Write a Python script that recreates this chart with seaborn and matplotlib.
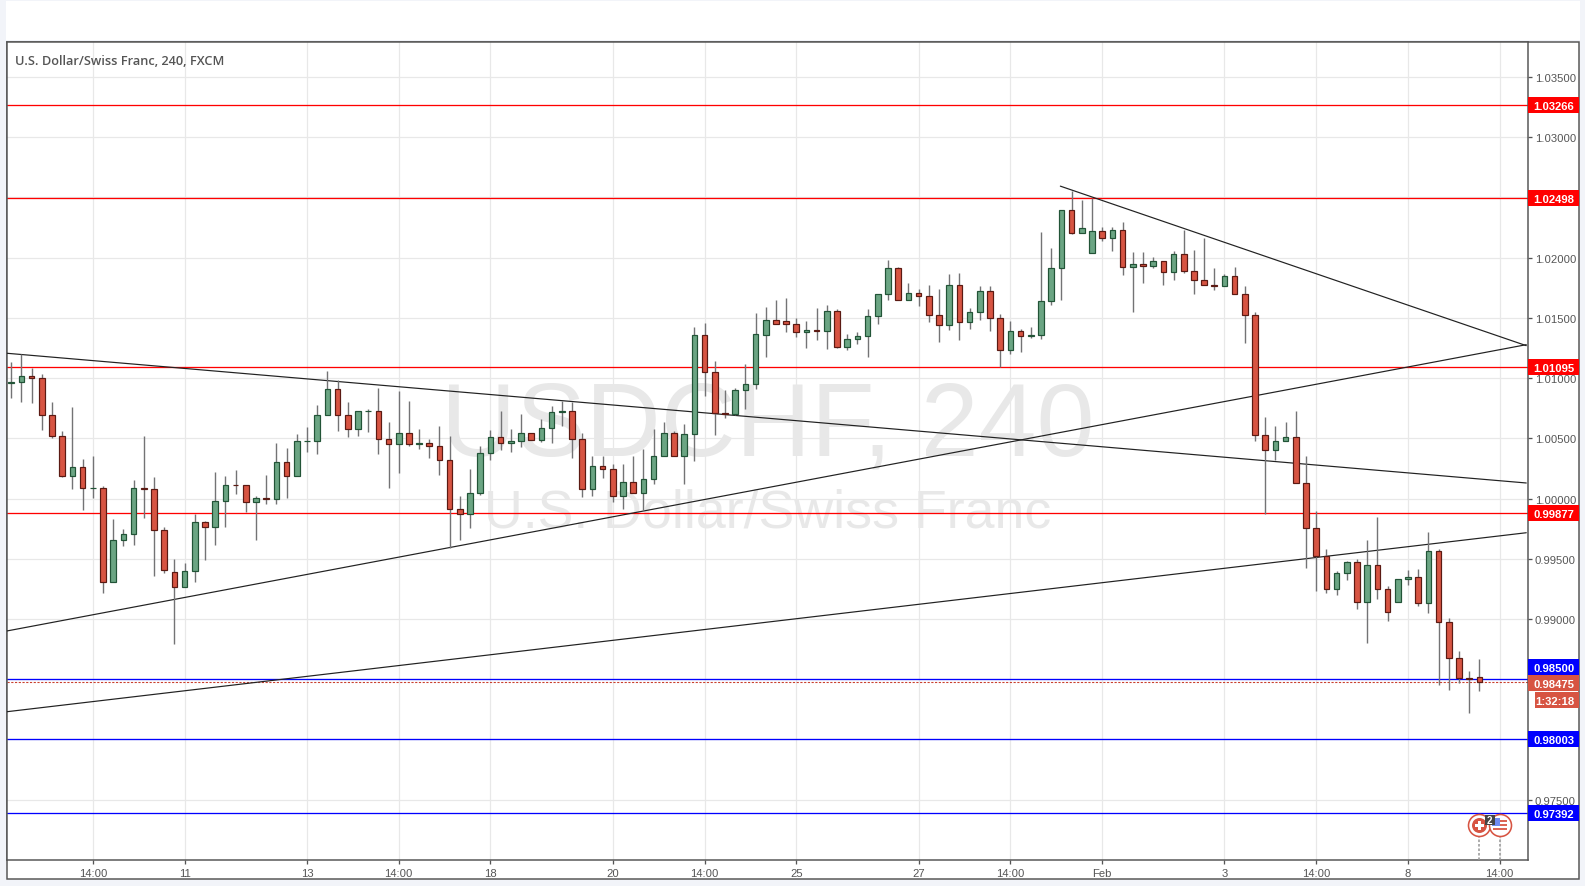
import numpy as np
import pandas as pd
import seaborn as sns
import matplotlib.pyplot as plt
from matplotlib.patches import Rectangle

opens = [
    1.00956, 1.00964, 1.01019, 1.00997, 1.00690, 1.00515, 1.00191, 1.00258, 1.00091, 1.00091,
    0.99310, 0.99659, 0.99709, 1.00091, 1.00075, 0.99742, 0.99393, 0.99269, 0.99402, 0.99801,
    0.99767, 0.99983, 1.00116, 1.00116, 0.99975, 1.00008, 0.99992, 1.00307, 1.00183, 1.00474,
    1.00474, 1.00690, 1.00906, 1.00690, 1.00573, 1.00723, 1.00723, 1.00490, 1.00449, 1.00548,
    1.00449, 1.00465, 1.00440, 1.00316, 0.99909, 0.99875, 1.00042, 1.00382, 1.00507, 1.00457,
    1.00474, 1.00540, 1.00482, 1.00582, 1.00715, 1.00723, 1.00490, 1.00075, 1.00274, 1.00241,
    1.00025, 1.00141, 1.00050, 1.00158, 1.00357, 1.00540, 1.00349, 1.00532, 1.01355, 1.01047,
    1.00706, 1.00698, 1.00897, 1.00947, 1.01359, 1.01483, 1.01475, 1.01450, 1.01384, 1.01400,
    1.01392, 1.01558, 1.01259, 1.01325, 1.01350, 1.01517, 1.01699, 1.01916, 1.01650, 1.01708,
    1.01683, 1.01525, 1.01442, 1.01774, 1.01467, 1.01550, 1.01724, 1.01500, 1.01234, 1.01392,
    1.01350, 1.01359, 1.01641, 1.01916, 1.02397, 1.02206, 1.02040, 1.02223, 1.02165, 1.02231,
    1.01922, 1.01947, 1.01931, 1.01972, 1.01881, 1.02030, 1.01889, 1.01814, 1.01773, 1.01765,
    1.01848, 1.01698, 1.01524, 1.00526, 1.00402, 1.00476, 1.00510, 1.00127, 0.99752, 0.99519,
    0.99253, 0.99378, 0.99470, 0.99145, 0.99445, 0.99245, 0.99137, 0.99328, 0.99345, 0.99129,
    0.99561, 0.98971, 0.98680, 0.98514, 0.98515,
]
closes = [
    1.00964, 1.01019, 1.00997, 1.00690, 1.00515, 1.00191, 1.00258, 1.00091, 1.00091, 0.99310,
    0.99659, 0.99709, 1.00091, 1.00075, 0.99742, 0.99410, 0.99269, 0.99402, 0.99801, 0.99767,
    0.99983, 1.00116, 1.00113, 0.99975, 1.00008, 0.99992, 1.00307, 1.00183, 1.00474, 1.00474,
    1.00690, 1.00906, 1.00690, 1.00573, 1.00723, 1.00723, 1.00490, 1.00449, 1.00548, 1.00449,
    1.00465, 1.00440, 1.00316, 0.99909, 0.99875, 1.00042, 1.00382, 1.00507, 1.00457, 1.00474,
    1.00540, 1.00482, 1.00582, 1.00715, 1.00723, 1.00490, 1.00075, 1.00274, 1.00241, 1.00025,
    1.00141, 1.00050, 1.00158, 1.00357, 1.00540, 1.00349, 1.00532, 1.01355, 1.01047, 1.00706,
    1.00698, 1.00897, 1.00947, 1.01363, 1.01483, 1.01450, 1.01450, 1.01384, 1.01400, 1.01392,
    1.01558, 1.01259, 1.01325, 1.01350, 1.01517, 1.01699, 1.01916, 1.01650, 1.01708, 1.01683,
    1.01525, 1.01442, 1.01774, 1.01467, 1.01550, 1.01724, 1.01500, 1.01234, 1.01392, 1.01350,
    1.01359, 1.01641, 1.01916, 1.02397, 1.02206, 1.02248, 1.02223, 1.02165, 1.02231, 1.01924,
    1.01947, 1.01931, 1.01972, 1.01881, 1.02030, 1.01889, 1.01814, 1.01773, 1.01765, 1.01848,
    1.01698, 1.01524, 1.00526, 1.00402, 1.00476, 1.00510, 1.00127, 0.99752, 0.99519, 0.99253,
    0.99378, 0.99470, 0.99145, 0.99445, 0.99245, 0.99054, 0.99328, 0.99345, 0.99129, 0.99561,
    0.98971, 0.98680, 0.98514, 0.98506, 0.98475,
]
highs = [
    1.01133, 1.01199, 1.01083, 1.01033, 1.00801, 1.00557, 1.00756, 1.00324, 1.00357, 1.00100,
    0.99834, 0.99751, 1.00150, 1.00515, 1.00175, 0.99767, 0.99496, 0.99468, 0.99875, 0.99817,
    1.00224, 1.00183, 1.00233, 1.00116, 1.00025, 1.00199, 1.00457, 1.00416, 1.00532, 1.00590,
    1.00773, 1.01055, 1.00981, 1.00798, 1.00723, 1.00740, 1.00914, 1.00632, 1.00889, 1.00806,
    1.00573, 1.00490, 1.00598, 1.00515, 1.00025, 1.00241, 1.00432, 1.00565, 1.00723, 1.00573,
    1.00698, 1.00548, 1.00656, 1.00765, 1.00806, 1.00798, 1.00548, 1.00357, 1.00349, 1.00283,
    1.00283, 1.00349, 1.00407, 1.00573, 1.00632, 1.00557, 1.00615, 1.01421, 1.01454, 1.01138,
    1.00897, 1.00914, 1.01114, 1.01537, 1.01591, 1.01650, 1.01666, 1.01500, 1.01475, 1.01583,
    1.01608, 1.01575, 1.01367, 1.01384, 1.01575, 1.01699, 1.01982, 1.01924, 1.01791, 1.01741,
    1.01774, 1.01741, 1.01866, 1.01874, 1.01583, 1.01766, 1.01766, 1.01533, 1.01475, 1.01409,
    1.01425, 1.02215, 1.02082, 1.02397, 1.02555, 1.02481, 1.02497, 1.02256, 1.02256, 1.02298,
    1.02047, 1.02047, 1.02006, 1.01972, 1.02055, 1.02227, 1.02064, 1.02163, 1.01914, 1.01864,
    1.01922, 1.01765, 1.01548, 1.00676, 1.00601, 1.00634, 1.00726, 1.00352, 0.99893, 0.99578,
    0.99395, 0.99481, 0.99494, 0.99652, 0.99843, 0.99278, 0.99328, 0.99403, 0.99411, 0.99719,
    0.99578, 0.99012, 0.98738, 0.98572, 0.98669,
]
lows = [
    1.00834, 1.00803, 1.00795, 1.00571, 1.00499, 1.00180, 1.00080, 0.99906, 1.00008, 0.99216,
    0.99310, 0.99607, 0.99615, 0.99839, 0.99357, 0.99382, 0.98795, 0.99269, 0.99307, 0.99490,
    0.99615, 0.99765, 1.00039, 0.99889, 0.99657, 0.99956, 0.99956, 1.00006, 1.00183, 1.00388,
    1.00371, 1.00690, 1.00562, 1.00512, 1.00521, 1.00554, 1.00371, 1.00089, 1.00213, 1.00438,
    1.00413, 1.00338, 1.00197, 0.99593, 0.99657, 0.99756, 1.00030, 1.00321, 1.00404, 1.00388,
    1.00429, 1.00482, 1.00471, 1.00463, 1.00604, 1.00338, 1.00014, 1.00022, 1.00172, 0.99975,
    0.99917, 1.00042, 0.99900, 1.00122, 1.00357, 1.00349, 1.00122, 1.00313, 1.00853, 1.00529,
    1.00665, 1.00690, 1.00742, 1.00911, 1.01173, 1.01450, 1.01381, 1.01339, 1.01248, 1.01314,
    1.01240, 1.01248, 1.01231, 1.01281, 1.01173, 1.01447, 1.01647, 1.01650, 1.01650, 1.01597,
    1.01464, 1.01298, 1.01398, 1.01314, 1.01406, 1.01481, 1.01389, 1.01093, 1.01198, 1.01215,
    1.01331, 1.01323, 1.01605, 1.01647, 1.02195, 1.02206, 1.02040, 1.02137, 1.02054, 1.01855,
    1.01548, 1.01789, 1.01914, 1.01773, 1.01814, 1.01873, 1.01698, 1.01773, 1.01731, 1.01765,
    1.01698, 1.01291, 1.00474, 0.99870, 1.00316, 1.00476, 1.00127, 0.99425, 0.99234, 0.99217,
    0.99201, 0.99325, 0.99085, 0.98802, 0.99168, 0.98985, 0.99137, 0.99284, 0.99104, 0.99046,
    0.98456, 0.98414, 0.98472, 0.98223, 0.98403,
]

time_tick_pos = [8, 17, 29, 38, 47, 59, 68, 77, 89, 98, 107, 119, 128, 137, 146]
time_tick_labels = ["14:00", "11", "13", "14:00", "18", "20", "14:00", "25", "27",
                    "14:00", "Feb", "3", "14:00", "8", "14:00"]
price_ticks = [0.975, 0.98, 0.985, 0.99, 0.995, 1.0, 1.005, 1.01, 1.015, 1.02, 1.025, 1.03, 1.035]
# these labels sit under a coloured price box in the reference
covered_ticks = [0.98, 0.985, 1.025]

resistance = [1.03266, 1.02498, 1.01095, 0.99877]
support = [0.98500, 0.98003, 0.97392]
last_price = 0.98475
countdown = "1:32:18"

trend_x = [[-0.47, 148.6], [-0.47, 148.6], [-0.47, 148.6], [102.9, 148.6]]
trend_y = [[1.01206, 1.00129], [0.98900, 1.01277], [0.98230, 0.99716], [1.02593, 1.01269]]

UP_FILL, UP_EDGE = "#6ba583", "#225437"
DOWN_FILL, DOWN_EDGE = "#d75442", "#5b1a13"
WICK = "#737375"
TEXT = "#555555"
W, H = 1585, 887
PX = 0.72  # one pixel in points at dpi 100
LABEL_SIZE = 8.1

sns.set_theme(style="white")
plt.rcParams["font.family"] = ["Liberation Sans", "DejaVu Sans"]

df = pd.DataFrame({"i": np.arange(len(opens)), "open": opens, "high": highs,
                   "low": lows, "close": closes})
df["bottom"] = df[["open", "close"]].min(axis=1)
df["height"] = (df["close"] - df["open"]).abs()
is_up = df["close"] >= df["open"]

fig = plt.figure(figsize=(W / 100, H / 100), dpi=100, facecolor="#f2f4f9")
x0, x1, y0, y1 = 6.5, 1528.3, 861.3, 43.3
ax = fig.add_axes([x0 / W, 1 - y0 / H, (x1 - x0) / W, (y0 - y1) / H], facecolor="white")
ax.set_zorder(2)

# page panels behind the chart
fig.add_artist(Rectangle((6 / W, 1 - 41 / H), 1574 / W, 39 / H, transform=fig.transFigure,
                         fc="white", ec="none", zorder=0))
fig.add_artist(Rectangle((6.5 / W, 1 - 880.3 / H), 1572 / W, 837 / H, transform=fig.transFigure,
                         fc="white", ec=TEXT, lw=1.5 * PX, zorder=1))

ax.set_xlim(-0.47, 148.8)
ax.set_ylim(0.96997, 1.03787)

# watermark
ax.text(0.5, 0.5285, "USDCHF, 240", transform=ax.transAxes, ha="center", va="center",
        fontsize=75, color="#e8e8e8", zorder=0)
ax.text(0.5, 0.4253, "U.S. Dollar/Swiss Franc", transform=ax.transAxes, ha="center", va="center",
        fontsize=38.7, color="#e8e8e8", zorder=0)

ax.grid(True, color="#e8e8e8", lw=1.2 * PX, zorder=1)
ax.set_axisbelow(True)

for level in resistance:
    ax.axhline(level, color="#ff0000", lw=1.3 * PX, zorder=2)
for level in support:
    ax.axhline(level, color="#0000ff", lw=1.3 * PX, zorder=2)
ax.axhline(last_price, color="#c9402f", lw=1.1 * PX, ls=(0, (2, 1.4)), zorder=2)

for xs, ys in zip(trend_x, trend_y):
    sns.lineplot(x=xs, y=ys, color="#222222", lw=1.2 * PX, ax=ax, zorder=3, legend=False)

ax.vlines(df["i"], df["low"], df["high"], color=WICK, lw=1.4 * PX, zorder=4)

for frame, fill, edge in [(df[is_up], UP_FILL, UP_EDGE), (df[~is_up], DOWN_FILL, DOWN_EDGE)]:
    sns.barplot(data=frame, x="i", y="height", bottom=frame["bottom"].values, native_scale=True,
                orient="x", width=0.55, color=fill, saturation=1, edgecolor=edge,
                linewidth=1.2 * PX, errorbar=None, ax=ax, zorder=5)

# event markers at the foot of the chart
ev_y = 0.97291
px_x, px_y = 1 / 10.195, 1 / 12040
ax.vlines([144, 146], 0.96997, ev_y - 11 * px_y, color="#9a9a9a", lw=1.6 * PX, ls=(0, (1.6, 1.2)), zorder=6)
ax.scatter([144, 146], [ev_y, ev_y], s=(22 * PX) ** 2, c="white", edgecolors=DOWN_FILL, linewidths=1.6 * PX, zorder=7)
ax.scatter([144], [ev_y], s=(15 * PX) ** 2, c=DOWN_FILL, linewidths=0, zorder=8)
ax.scatter([144], [ev_y], s=(9 * PX) ** 2, c="white", marker="P", linewidths=0, zorder=9)
ax.hlines([ev_y + 4 * px_y, ev_y, ev_y - 4 * px_y], 146 - 7 * px_x, 146 + 7 * px_x,
          color=DOWN_FILL, lw=1.8 * PX, zorder=8)
ax.scatter([146 - 4 * px_x], [ev_y + 3 * px_y], s=(8 * PX) ** 2, c="#6f8cf2", marker="s", linewidths=0, zorder=9)
ax.scatter([145], [ev_y + 5 * px_y], s=(10 * PX) ** 2, c="#444444", marker="s", linewidths=0, zorder=10)
ax.text(145, ev_y + 5 * px_y, "2", color="white", fontsize=7, fontweight="bold", ha="center",
        va="center", zorder=11)

ax.set_xlabel("")
ax.set_ylabel("")
ax.set_xticks(time_tick_pos)
ax.set_xticklabels(time_tick_labels)
ax.yaxis.tick_right()
ax.set_yticks(price_ticks)
ax.set_yticklabels(["" if p in covered_ticks else f"{p:.5f}" for p in price_ticks])
ax.tick_params(axis="both", colors=TEXT, labelcolor=TEXT, labelsize=LABEL_SIZE, length=4 * PX,
               width=1.3 * PX, pad=1.8, bottom=True, right=True, left=False)
ax.tick_params(axis="x", pad=3)
for side in ["top", "left", "right", "bottom"]:
    ax.spines[side].set_color(TEXT)
    ax.spines[side].set_linewidth(1.5 * PX)

fig.text(15.3 / W, 1 - 61.5 / H, "U.S. Dollar/Swiss Franc, 240, FXCM", family="Open Sans",
         fontweight="semibold", fontsize=9.2, color=TEXT, va="center", zorder=5)


def y_pix(price):
    return H - ax.transData.transform((0, price))[1]


def price_box(y_mid, text, color, left=1528.3, h=16):
    fig.add_artist(Rectangle((left / W, 1 - (y_mid + h / 2) / H), (1578.5 - left) / W, h / H,
                             transform=fig.transFigure, fc=color, ec="none", zorder=6))
    fig.text(1574.5 / W, 1 - y_mid / H, text, color="white", fontsize=LABEL_SIZE, fontweight="bold",
             ha="right", va="center_baseline", zorder=7)


for level in resistance:
    price_box(y_pix(level), f"{level:.5f}", "#ff0000")
price_box(y_pix(support[1]), f"{support[1]:.5f}", "#0000ff")
price_box(y_pix(support[2]), f"{support[2]:.5f}", "#0000ff")
# these three would collide, so the labels stack
price_box(668, f"{support[0]:.5f}", "#0000ff")
price_box(684, f"{last_price:.5f}", DOWN_FILL)
price_box(701, countdown, DOWN_FILL, left=1535)

fig.savefig("out.png", dpi=100, facecolor=fig.get_facecolor())
